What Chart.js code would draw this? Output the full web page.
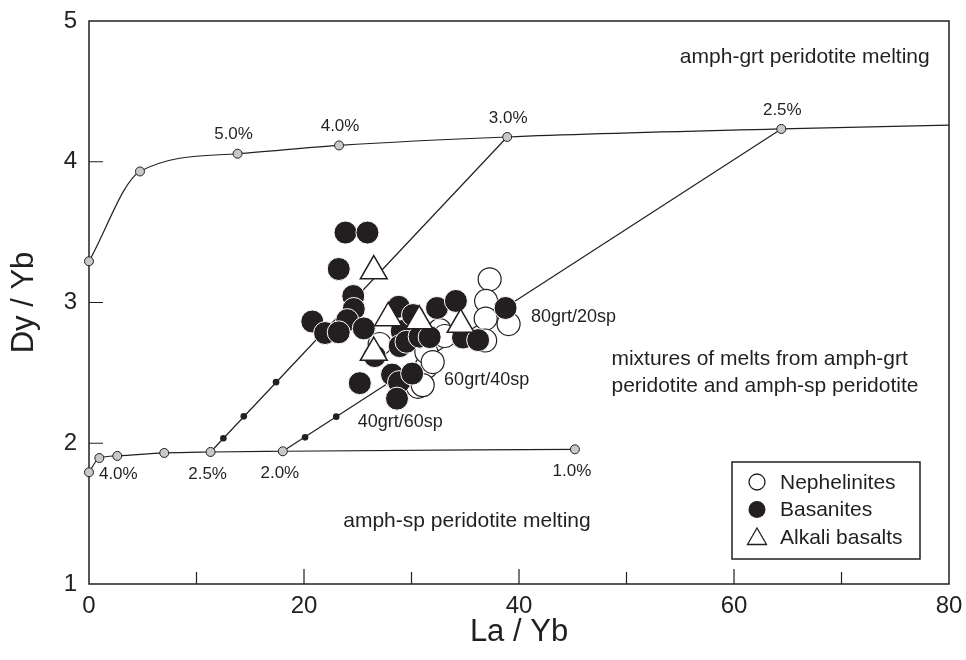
<!DOCTYPE html>
<html>
<head>
<meta charset="utf-8">
<script src="https://cdn.jsdelivr.net/npm/chart.js@4.4.1/dist/chart.umd.min.js"></script>
<style>
  html, body { margin: 0; padding: 0; background: #fff; }
</style>
</head>
<body>
<canvas id="chart" width="966" height="660"></canvas>
<script>
// amph-grt peridotite melting curve (La/Yb vs Dy/Yb)
const grtX = [0, 4.74, 13.82, 23.26, 38.9, 64.4, 80];
const grtY = [3.293, 3.931, 4.057, 4.116, 4.176, 4.233, 4.26];
const grtLabels = ['', '', '5.0%', '4.0%', '3.0%', '2.5%', ''];

// amph-sp peridotite melting curve
const spX = [0, 0.96, 2.63, 7.0, 11.31, 18.03, 45.2];
const spY = [1.794, 1.895, 1.910, 1.931, 1.938, 1.943, 1.957];
const spLabels = ['', '4.0%', '', '', '2.5%', '2.0%', '1.0%'];

// small dots along the two mixing lines
const mixDotX = [12.5, 14.4, 17.4, 20.1, 23.0, 37.5];
const mixDotY = [2.036, 2.191, 2.434, 2.042, 2.189, 2.904];
const mixLabels = ['80grt/20sp', '60grt/40sp', '40grt/60sp'];

// samples
const nephX = [37.27, 36.94, 39.03, 36.90, 36.85, 31.38, 30.60, 31.38, 27.04, 32.62, 33.09, 31.97, 31.04];
const nephY = [3.165, 3.011, 2.847, 2.886, 2.730, 2.543, 2.401, 2.648, 2.705, 2.804, 2.762, 2.577, 2.413];

const basX = [23.86, 25.90, 23.23, 24.58, 24.63, 24.02, 20.77, 21.96, 23.23, 25.56, 26.58, 28.81, 29.09, 28.90,
              29.53, 30.14, 30.76, 31.69, 32.37, 34.13, 34.79, 36.20, 38.75, 25.19, 28.19, 28.84, 30.06, 28.65];
const basY = [3.497, 3.497, 3.238, 3.046, 2.954, 2.875, 2.865, 2.783, 2.788, 2.816, 2.619, 2.970, 2.797, 2.690,
              2.721, 2.911, 2.757, 2.754, 2.961, 3.011, 2.751, 2.733, 2.961, 2.427, 2.488, 2.434, 2.495, 2.317];

const alkX = [26.49, 27.83, 30.72, 34.57, 26.49];
const alkY = [3.223, 2.890, 2.868, 2.843, 2.644];

const ink = '#231f20';
const fontFamily = "'Liberation Sans', Arial, Helvetica, sans-serif";

const pts = (xs, ys) => xs.map((v, i) => ({ x: v, y: ys[i] }));

// frame and inward tick marks
const frameTicks = {
  id: 'frameTicks',
  beforeDatasetsDraw(chart) {
    const { ctx, chartArea: a, scales: { x, y } } = chart;
    ctx.save();
    ctx.strokeStyle = ink;
    ctx.lineWidth = 1.5;
    ctx.strokeRect(a.left, a.top, a.right - a.left, a.bottom - a.top);
    ctx.lineWidth = 1.2;
    ctx.beginPath();
    x.ticks.forEach(t => {
      if (t.value <= x.min || t.value >= x.max) return;
      const px = x.getPixelForValue(t.value);
      const len = t.value % 20 === 0 ? 15 : 12;
      ctx.moveTo(px, a.bottom);
      ctx.lineTo(px, a.bottom - len);
    });
    y.ticks.forEach(t => {
      if (t.value <= y.min || t.value >= y.max) return;
      const py = y.getPixelForValue(t.value);
      ctx.moveTo(a.left, py);
      ctx.lineTo(a.left + 14, py);
    });
    ctx.stroke();
    ctx.restore();
  }
};

// percentage labels, mixing labels and region texts
const annotations = {
  id: 'annotations',
  afterDraw(chart) {
    const { ctx, scales: { x, y } } = chart;
    ctx.save();
    ctx.fillStyle = ink;
    ctx.textBaseline = 'middle';
    ctx.textAlign = 'center';

    ctx.font = '17px ' + fontFamily;
    grtLabels.forEach((s, i) => {
      if (!s) return;
      const dx = i === 2 ? -4 : 1;
      ctx.fillText(s, x.getPixelForValue(grtX[i]) + dx, y.getPixelForValue(grtY[i]) - 19);
    });
    spLabels.forEach((s, i) => {
      if (!s) return;
      const dx = i === 1 ? 19 : -3;
      const dy = i === 1 ? 16 : 22;
      ctx.fillText(s, x.getPixelForValue(spX[i]) + dx, y.getPixelForValue(spY[i]) + dy);
    });

    ctx.font = '18px ' + fontFamily;
    ctx.fillText(mixLabels[0], x.getPixelForValue(45.07), y.getPixelForValue(2.90));
    ctx.fillText(mixLabels[1], x.getPixelForValue(36.99), y.getPixelForValue(2.448));
    ctx.fillText(mixLabels[2], x.getPixelForValue(28.95), y.getPixelForValue(2.149));

    ctx.font = '21px ' + fontFamily;
    ctx.fillText('amph-sp peridotite melting', x.getPixelForValue(35.16), y.getPixelForValue(1.445));
    ctx.textAlign = 'right';
    ctx.fillText('amph-grt peridotite melting', x.getPixelForValue(78.2), y.getPixelForValue(4.74));
    ctx.textAlign = 'left';
    ctx.fillText('mixtures of melts from amph-grt', x.getPixelForValue(48.6), y.getPixelForValue(2.598));
    ctx.fillText('peridotite and amph-sp peridotite', x.getPixelForValue(48.6), y.getPixelForValue(2.406));
    ctx.restore();
  }
};

// boxed legend in the lower right corner of the plot
const legendBox = {
  id: 'legendBox',
  afterDraw(chart) {
    const { ctx, chartArea: a } = chart;
    const w = 188, h = 97;
    const left = a.right - 29 - w, top = a.bottom - 25 - h;
    ctx.save();
    ctx.fillStyle = '#fff';
    ctx.fillRect(left, top, w, h);
    ctx.strokeStyle = ink;
    ctx.lineWidth = 1.5;
    ctx.strokeRect(left, top, w, h);

    const mx = left + 25;
    const rows = ['Nephelinites', 'Basanites', 'Alkali basalts'];
    const rowY = [top + 20, top + 47.5, top + 75];

    ctx.lineWidth = 1.3;
    ctx.beginPath();
    ctx.arc(mx, rowY[0], 8, 0, Math.PI * 2);
    ctx.fillStyle = '#fff';
    ctx.fill();
    ctx.stroke();

    ctx.beginPath();
    ctx.arc(mx, rowY[1], 8.5, 0, Math.PI * 2);
    ctx.fillStyle = ink;
    ctx.fill();

    const r = 11, cy = rowY[2] + 2;
    ctx.beginPath();
    ctx.moveTo(mx, cy - r);
    ctx.lineTo(mx + r * Math.sin(Math.PI / 3), cy + r / 2);
    ctx.lineTo(mx - r * Math.sin(Math.PI / 3), cy + r / 2);
    ctx.closePath();
    ctx.fillStyle = '#fff';
    ctx.fill();
    ctx.stroke();

    ctx.fillStyle = ink;
    ctx.font = '21px ' + fontFamily;
    ctx.textAlign = 'left';
    ctx.textBaseline = 'middle';
    rows.forEach((s, i) => ctx.fillText(s, left + 48, rowY[i] + 1));
    ctx.restore();
  }
};

const curvePoint = labels => labels.map((s, i) => (i === labels.length - 1 && !s) ? 0 : 4.5);

new Chart(document.getElementById('chart'), {
  type: 'scatter',
  data: {
    datasets: [
      {
        label: 'Alkali basalts',
        data: pts(alkX, alkY),
        pointStyle: 'triangle',
        pointRadius: 15.5,
        backgroundColor: '#fff',
        borderColor: ink,
        borderWidth: 1.5,
        order: 1
      },
      {
        label: 'Basanites',
        data: pts(basX, basY),
        pointRadius: 11.5,
        backgroundColor: ink,
        borderColor: '#fff',
        borderWidth: 1,
        order: 2
      },
      {
        label: 'Nephelinites',
        data: pts(nephX, nephY),
        pointRadius: 11.5,
        backgroundColor: '#fff',
        borderColor: ink,
        borderWidth: 1.2,
        order: 3
      },
      {
        label: 'mixing steps',
        data: pts(mixDotX, mixDotY),
        pointRadius: 3.3,
        backgroundColor: ink,
        borderColor: ink,
        borderWidth: 0,
        order: 4
      },
      {
        label: 'amph-grt melting',
        data: pts(grtX, grtY),
        showLine: true,
        cubicInterpolationMode: 'monotone',
        borderColor: ink,
        borderWidth: 1.2,
        pointRadius: curvePoint(grtLabels),
        pointBackgroundColor: '#c8c8c8',
        pointBorderColor: ink,
        pointBorderWidth: 1,
        clip: false,
        order: 5
      },
      {
        label: 'amph-sp melting',
        data: pts(spX, spY),
        showLine: true,
        cubicInterpolationMode: 'monotone',
        borderColor: ink,
        borderWidth: 1.2,
        pointRadius: 4.5,
        pointBackgroundColor: '#c8c8c8',
        pointBorderColor: ink,
        pointBorderWidth: 1,
        clip: false,
        order: 5
      },
      {
        label: 'mixing A',
        data: [{ x: spX[4], y: spY[4] }, { x: grtX[4], y: grtY[4] }],
        showLine: true,
        borderColor: ink,
        borderWidth: 1.2,
        pointRadius: 0,
        order: 6
      },
      {
        label: 'mixing B',
        data: [{ x: spX[5], y: spY[5] }, { x: grtX[5], y: grtY[5] }],
        showLine: true,
        borderColor: ink,
        borderWidth: 1.2,
        pointRadius: 0,
        order: 6
      }
    ]
  },
  options: {
    responsive: false,
    animation: false,
    events: [],
    layout: { padding: { top: 21, right: 16, left: 0, bottom: 0 } },
    font: { family: fontFamily },
    scales: {
      x: {
        type: 'linear',
        min: 0,
        max: 80,
        afterFit: s => { s.height = 76; s.paddingLeft = 0; s.paddingRight = 0; },
        grid: { display: false, drawTicks: false },
        border: { display: false },
        ticks: {
          stepSize: 10,
          autoSkip: false,
          maxRotation: 0,
          padding: 8,
          color: ink,
          font: { size: 24, family: fontFamily },
          callback: v => (v % 20 === 0 ? v : '')
        },
        title: {
          display: true,
          text: 'La / Yb',
          color: ink,
          font: { size: 31, family: fontFamily },
          padding: { top: 0, bottom: 9 }
        }
      },
      y: {
        min: 1,
        max: 5,
        afterFit: s => { s.width = 89; s.paddingTop = 0; s.paddingBottom = 0; },
        grid: { display: false, drawTicks: false },
        border: { display: false },
        ticks: {
          stepSize: 1,
          padding: 12,
          color: ink,
          font: { size: 24, family: fontFamily }
        },
        title: {
          display: true,
          text: 'Dy / Yb',
          color: ink,
          font: { size: 31, family: fontFamily },
          padding: { top: 6, bottom: 0 }
        }
      }
    },
    plugins: {
      legend: { display: false },
      tooltip: { enabled: false }
    }
  },
  plugins: [frameTicks, annotations, legendBox]
});
</script>
</body>
</html>
